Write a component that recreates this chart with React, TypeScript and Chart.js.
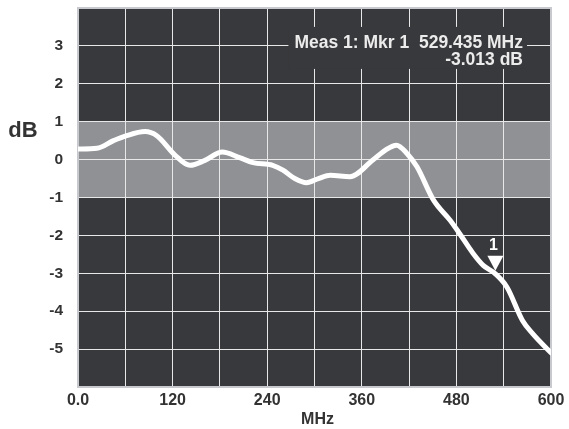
import React, { useEffect, useRef } from "react";
import { Chart, registerables } from "chart.js";

Chart.register(...registerables);

const freqMHz = [0, 24, 45, 60, 85, 100, 123, 142, 161, 183, 205, 222, 247, 260, 275, 290, 305, 320, 345, 374, 390, 404, 417, 430, 451, 472, 484, 501, 514, 529.435, 544, 564, 577, 600];
const gainDb = [0.28, 0.3, 0.5, 0.62, 0.74, 0.63, 0.12, -0.15, -0.02, 0.2, 0.05, -0.08, -0.15, -0.28, -0.5, -0.61, -0.5, -0.41, -0.45, -0.01, 0.25, 0.38, 0.17, -0.19, -1.07, -1.6, -1.95, -2.47, -2.79, -3.013, -3.36, -4.25, -4.6, -5.1];
const yTickLabels = ["3", "2", "1", "0", "-1", "-2", "-3", "-4", "-5"];
const xTickLabels = ["0.0", "120", "240", "360", "480", "600"];
const bandRange = [-1, 1];
const markerFreq = 529.435;
const markerDb = -3.013;
const markerLines = ["Meas 1: Mkr 1  529.435 MHz", "-3.013 dB"];

const FONT = "'Liberation Sans', Arial, Helvetica, sans-serif";
const DARK = "#38393c";
const BAND = "#8f9195";

const decorPlugin = {
  id: "decor",
  beforeDraw(chart: any) {
    const { ctx, chartArea: a, scales } = chart;
    const y = scales.y;
    ctx.save();
    ctx.fillStyle = DARK;
    ctx.fillRect(a.left, a.top, a.right - a.left, a.bottom - a.top);
    const yt = y.getPixelForValue(bandRange[1]);
    const yb = y.getPixelForValue(bandRange[0]);
    ctx.fillStyle = BAND;
    ctx.fillRect(a.left, yt, a.right - a.left, yb - yt);
    ctx.restore();
  },
  beforeDatasetsDraw(chart: any) {
    const { ctx, chartArea: a, scales } = chart;
    const y = scales.y;
    ctx.save();
    // border
    ctx.strokeStyle = "#c8c9cf";
    ctx.lineWidth = 2;
    ctx.strokeRect(a.left, a.top, a.right - a.left, a.bottom - a.top);
    // annotation box
    ctx.font = `bold 17.5px ${FONT}`;
    const rightX = a.right - 28;
    const y1 = y.getPixelForValue(3) - 3;
    const w = ctx.measureText(markerLines[0]).width;
    ctx.fillStyle = DARK;
    ctx.fillRect(rightX - w - 6, y1 - 16, w + 10, 42);
    ctx.fillStyle = "#ececec";
    ctx.textAlign = "right";
    ctx.textBaseline = "middle";
    ctx.fillText(markerLines[0], rightX, y1);
    ctx.fillText(markerLines[1], rightX, y1 + 17);
    // axis titles
    ctx.fillStyle = "#333333";
    ctx.textAlign = "center";
    ctx.font = `bold 22px ${FONT}`;
    ctx.fillText("dB", 23, y.getPixelForValue(0.75));
    ctx.font = `bold 16px ${FONT}`;
    ctx.fillText("MHz", (a.left + a.right) / 2 + 3, a.bottom + 33);
    ctx.restore();
  },
  afterDatasetsDraw(chart: any) {
    const { ctx, scales } = chart;
    const px = scales.x.getPixelForValue(markerFreq);
    const py = scales.y.getPixelForValue(markerDb) - 3;
    ctx.save();
    ctx.fillStyle = "#ffffff";
    ctx.beginPath();
    ctx.moveTo(px, py);
    ctx.lineTo(px - 8, py - 15);
    ctx.lineTo(px + 8, py - 15);
    ctx.closePath();
    ctx.fill();
    ctx.font = `bold 16px ${FONT}`;
    ctx.textAlign = "center";
    ctx.textBaseline = "middle";
    ctx.fillText("1", px - 2, py - 25);
    ctx.restore();
  },
};

export default function App() {
  const ref = useRef<HTMLCanvasElement | null>(null);
  useEffect(() => {
    if (!ref.current) return;
    const chart = new Chart(ref.current, {
      type: "line",
      data: {
        datasets: [
          {
            data: freqMHz.map((f, i) => ({ x: f, y: gainDb[i] })),
            borderColor: "#ffffff",
            borderWidth: 5,
            pointRadius: 0,
            cubicInterpolationMode: "monotone",
            fill: false,
            borderCapStyle: "round",
            borderJoinStyle: "round",
          },
        ],
      },
      options: {
        animation: false,
        responsive: false,
        maintainAspectRatio: false,
        layout: { padding: { left: 0, top: 8, right: 18, bottom: 0 } },
        plugins: { legend: { display: false }, tooltip: { enabled: false } },
        scales: {
          x: {
            type: "linear",
            min: 0,
            max: 600,
            afterFit: (s: any) => {
              s.height = 42;
              s.paddingLeft = 0;
              s.paddingRight = 0;
            },
            afterBuildTicks: (s: any) => {
              const t = [];
              for (let v = 0; v <= 600; v += 60) t.push({ value: v });
              s.ticks = t;
            },
            ticks: {
              padding: 4,
              color: "#333333",
              font: { family: FONT, size: 16, weight: "bold" },
              maxRotation: 0,
              autoSkip: false,
              callback: (v: any) => (Number(v) % 120 === 0 ? xTickLabels[Number(v) / 120] : ""),
            },
            grid: { color: "#e8e8e8", lineWidth: 1, drawTicks: false },
            border: { display: false },
          },
          y: {
            min: -6,
            max: 4,
            afterFit: (s: any) => {
              s.width = 78;
              s.paddingTop = 0;
              s.paddingBottom = 0;
            },
            ticks: {
              stepSize: 1,
              padding: 15,
              color: "#333333",
              font: { family: FONT, size: 15.5, weight: "bold" },
              autoSkip: false,
              callback: (v: any) => {
                const i = 3 - Number(v);
                return i >= 0 && i < yTickLabels.length ? yTickLabels[i] : "";
              },
            },
            grid: { color: "#e8e8e8", lineWidth: 1, drawTicks: false },
            border: { display: false },
          },
        },
      },
      plugins: [decorPlugin],
    } as any);
    return () => chart.destroy();
  }, []);
  return (
    <div style={{ position: "absolute", left: 0, top: 0, width: 569, height: 429, background: "#ffffff" }}>
      <canvas ref={ref} width={569} height={429} style={{ width: 569, height: 429, display: "block" }} />
    </div>
  );
}
